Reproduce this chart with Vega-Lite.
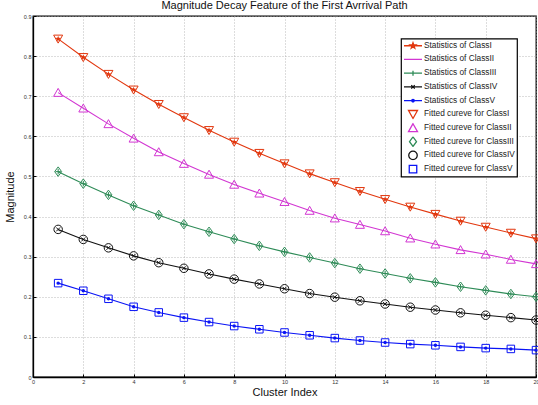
{
  "$schema": "https://vega.github.io/schema/vega-lite/v6.json",
  "width": 503,
  "height": 361,
  "autosize": {"type": "none"},
  "padding": {"left": 33, "top": 16, "right": 2, "bottom": 28},
  "background": "white",
  "title": {"text": "Magnitude Decay Feature of the First Avrrival Path", "fontSize": 11, "fontWeight": "normal", "font": "Liberation Sans", "color": "#111", "offset": 3, "anchor": "middle"},
  "datasets": {
    "labels": [
      {"cls": "I", "stat": "Statistics of ClassI", "fit": "Fitted cureve for ClassI"},
      {"cls": "II", "stat": "Statistics of ClassII", "fit": "Fitted cureve for ClassII"},
      {"cls": "III", "stat": "Statistics of ClassIII", "fit": "Fitted cureve for ClassIII"},
      {"cls": "IV", "stat": "Statistics of ClassIV", "fit": "Fitted cureve for ClassIV"},
      {"cls": "V", "stat": "Statistics of ClassV", "fit": "Fitted cureve for ClassV"}
    ]
  },
  "data": {"values": [
    {"x":1,"cls":"I","y":0.843},{"x":2,"cls":"I","y":0.797},{"x":3,"cls":"I","y":0.755},{"x":4,"cls":"I","y":0.716},{"x":5,"cls":"I","y":0.680},
    {"x":6,"cls":"I","y":0.647},{"x":7,"cls":"I","y":0.615},{"x":8,"cls":"I","y":0.586},{"x":9,"cls":"I","y":0.558},{"x":10,"cls":"I","y":0.532},
    {"x":11,"cls":"I","y":0.507},{"x":12,"cls":"I","y":0.485},{"x":13,"cls":"I","y":0.463},{"x":14,"cls":"I","y":0.443},{"x":15,"cls":"I","y":0.424},
    {"x":16,"cls":"I","y":0.406},{"x":17,"cls":"I","y":0.389},{"x":18,"cls":"I","y":0.374},{"x":19,"cls":"I","y":0.359},{"x":20,"cls":"I","y":0.345},
    {"x":1,"cls":"II","y":0.709},{"x":2,"cls":"II","y":0.670},{"x":3,"cls":"II","y":0.631},{"x":4,"cls":"II","y":0.595},{"x":5,"cls":"II","y":0.561},
    {"x":6,"cls":"II","y":0.532},{"x":7,"cls":"II","y":0.505},{"x":8,"cls":"II","y":0.480},{"x":9,"cls":"II","y":0.458},{"x":10,"cls":"II","y":0.437},
    {"x":11,"cls":"II","y":0.415},{"x":12,"cls":"II","y":0.396},{"x":13,"cls":"II","y":0.380},{"x":14,"cls":"II","y":0.364},{"x":15,"cls":"II","y":0.346},
    {"x":16,"cls":"II","y":0.331},{"x":17,"cls":"II","y":0.317},{"x":18,"cls":"II","y":0.306},{"x":19,"cls":"II","y":0.293},{"x":20,"cls":"II","y":0.282},
    {"x":1,"cls":"III","y":0.512},{"x":2,"cls":"III","y":0.482},{"x":3,"cls":"III","y":0.454},{"x":4,"cls":"III","y":0.427},{"x":5,"cls":"III","y":0.404},
    {"x":6,"cls":"III","y":0.381},{"x":7,"cls":"III","y":0.362},{"x":8,"cls":"III","y":0.344},{"x":9,"cls":"III","y":0.327},{"x":10,"cls":"III","y":0.312},
    {"x":11,"cls":"III","y":0.298},{"x":12,"cls":"III","y":0.284},{"x":13,"cls":"III","y":0.270},{"x":14,"cls":"III","y":0.258},{"x":15,"cls":"III","y":0.246},
    {"x":16,"cls":"III","y":0.236},{"x":17,"cls":"III","y":0.225},{"x":18,"cls":"III","y":0.216},{"x":19,"cls":"III","y":0.207},{"x":20,"cls":"III","y":0.200},
    {"x":1,"cls":"IV","y":0.368},{"x":2,"cls":"IV","y":0.343},{"x":3,"cls":"IV","y":0.322},{"x":4,"cls":"IV","y":0.302},{"x":5,"cls":"IV","y":0.285},
    {"x":6,"cls":"IV","y":0.271},{"x":7,"cls":"IV","y":0.257},{"x":8,"cls":"IV","y":0.244},{"x":9,"cls":"IV","y":0.232},{"x":10,"cls":"IV","y":0.220},
    {"x":11,"cls":"IV","y":0.208},{"x":12,"cls":"IV","y":0.199},{"x":13,"cls":"IV","y":0.190},{"x":14,"cls":"IV","y":0.182},{"x":15,"cls":"IV","y":0.174},
    {"x":16,"cls":"IV","y":0.167},{"x":17,"cls":"IV","y":0.160},{"x":18,"cls":"IV","y":0.154},{"x":19,"cls":"IV","y":0.148},{"x":20,"cls":"IV","y":0.142},
    {"x":1,"cls":"V","y":0.234},{"x":2,"cls":"V","y":0.215},{"x":3,"cls":"V","y":0.195},{"x":4,"cls":"V","y":0.175},{"x":5,"cls":"V","y":0.161},
    {"x":6,"cls":"V","y":0.148},{"x":7,"cls":"V","y":0.137},{"x":8,"cls":"V","y":0.127},{"x":9,"cls":"V","y":0.119},{"x":10,"cls":"V","y":0.111},
    {"x":11,"cls":"V","y":0.104},{"x":12,"cls":"V","y":0.097},{"x":13,"cls":"V","y":0.091},{"x":14,"cls":"V","y":0.086},{"x":15,"cls":"V","y":0.082},
    {"x":16,"cls":"V","y":0.079},{"x":17,"cls":"V","y":0.075},{"x":18,"cls":"V","y":0.072},{"x":19,"cls":"V","y":0.070},{"x":20,"cls":"V","y":0.067}
  ]},
  "encoding": {
    "x": {"field": "x", "type": "quantitative", "scale": {"domain": [0, 20], "nice": false, "zero": false},
      "axis": {"values": [0,2,4,6,8,10,12,14,16,18,20], "title": "Cluster Index"}},
    "y": {"field": "y", "type": "quantitative", "scale": {"domain": [0, 0.9], "nice": false},
      "axis": {"values": [0,0.1,0.2,0.3,0.4,0.5,0.6,0.7,0.8,0.9], "format": ".1~f", "title": "Magnitude"}}
  },
  "layer": [
    {
      "transform": [{"lookup": "cls", "from": {"data": {"name": "labels"}, "key": "cls", "fields": ["stat"]}, "as": ["series"]}],
      "mark": {"type": "line", "strokeWidth": 1.1},
      "encoding": {
        "color": {"field": "series", "type": "nominal",
          "scale": {"domain": ["Statistics of ClassI","Statistics of ClassII","Statistics of ClassIII","Statistics of ClassIV","Statistics of ClassV","Fitted cureve for ClassI","Fitted cureve for ClassII","Fitted cureve for ClassIII","Fitted cureve for ClassIV","Fitted cureve for ClassV"],
            "range": ["#e2370e","#d236d2","#2e8b57","#111111","#0a14f5","#e2370e","#d236d2","#2e8b57","#111111","#0a14f5"]},
          "legend": {"title": null}}
      }
    },
    {
      "transform": [{"lookup": "cls", "from": {"data": {"name": "labels"}, "key": "cls", "fields": ["fit"]}, "as": ["series"]}],
      "mark": {"type": "point", "filled": false, "strokeWidth": 1, "size": 100, "opacity": 1},
      "encoding": {
        "color": {"field": "series", "type": "nominal", "legend": {"title": null}},
        "shape": {"field": "series", "type": "nominal",
          "scale": {"domain": ["Statistics of ClassI","Statistics of ClassII","Statistics of ClassIII","Statistics of ClassIV","Statistics of ClassV","Fitted cureve for ClassI","Fitted cureve for ClassII","Fitted cureve for ClassIII","Fitted cureve for ClassIV","Fitted cureve for ClassV"],
            "range": [
              "M-1.8,0H1.8M0,-0.6L0.141,-0.194L0.571,-0.185L0.228,0.074L0.353,0.485L0,0.24L-0.353,0.485L-0.228,0.074L-0.571,-0.185L-0.141,-0.194Z",
              "M-1.8,0H1.8",
              "M-1.8,0H1.8M0,-0.5V0.5",
              "M-1.8,0H1.8M-0.35,-0.35L0.35,0.35M-0.35,0.35L0.35,-0.35",
              "M-1.8,0H1.8M-0.25,0A0.25,0.25 0 1,0 0.25,0A0.25,0.25 0 1,0 -0.25,0",
              "M-0.9,-0.75L0.9,-0.75L0,0.85Z",
              "M0,-0.85L0.9,0.75L-0.9,0.75Z",
              "M0,-0.95L0.7,0L0,0.95L-0.7,0Z",
              "M-0.85,0A0.85,0.85 0 1,0 0.85,0A0.85,0.85 0 1,0 -0.85,0",
              "M-0.75,-0.75H0.75V0.75H-0.75Z"
            ]},
          "legend": {"title": null}}
      }
    },
    {
      "transform": [{"filter": "datum.cls === 'I'"}],
      "mark": {"type": "point", "filled": true, "color": "#e2370e", "size": 40, "opacity": 1,
        "shape": "M0,-1L0.235,-0.324L0.951,-0.309L0.38,0.124L0.588,0.809L0,0.4L-0.588,0.809L-0.38,0.124L-0.951,-0.309L-0.235,-0.324Z"}
    },
    {
      "transform": [{"filter": "datum.cls === 'III'"}],
      "mark": {"type": "point", "filled": false, "color": "#2e8b57", "size": 30, "strokeWidth": 1, "opacity": 1, "shape": "M-1,0H1M0,-1V1"}
    },
    {
      "transform": [{"filter": "datum.cls === 'IV'"}],
      "mark": {"type": "point", "filled": false, "color": "#111111", "size": 16, "strokeWidth": 1, "opacity": 1, "shape": "M-1,-1L1,1M-1,1L1,-1"}
    },
    {
      "transform": [{"filter": "datum.cls === 'V'"}],
      "mark": {"type": "point", "filled": true, "color": "#0a14f5", "size": 12, "opacity": 1, "shape": "circle"}
    }
  ],
  "config": {
    "font": "Liberation Sans",
    "view": {"stroke": "#000000", "strokeWidth": 1.3},
    "axis": {
      "grid": true, "gridColor": "#a8a8a8", "gridDash": [1, 2], "gridWidth": 0.8,
      "domainColor": "#000000", "domainWidth": 1.3,
      "tickColor": "#000000", "tickSize": -3, "tickWidth": 1,
      "labelFontSize": 5.5, "labelColor": "#333333", "labelFont": "Liberation Sans",
      "titleFontSize": 11, "titleFontWeight": "normal", "titleColor": "#111111", "titleFont": "Liberation Sans"
    },
    "axisX": {"labelPadding": 5, "titlePadding": 2, "labelFlush": false},
    "axisY": {"labelPadding": 5, "titlePadding": 8},
    "legend": {
      "orient": "none", "legendX": 368, "legendY": 22.5,
      "strokeColor": "#000000", "strokeWidth": 1.2, "fillColor": "#ffffff",
      "padding": 2, "cornerRadius": 0,
      "labelFontSize": 8.3, "labelFont": "Liberation Sans", "labelColor": "#222222", "labelLimit": 200,
      "symbolSize": 100, "symbolStrokeWidth": 1.3, "symbolOffset": 4, "labelOffset": 5,
      "clipHeight": 10.5, "rowPadding": 2.7
    }
  }
}
